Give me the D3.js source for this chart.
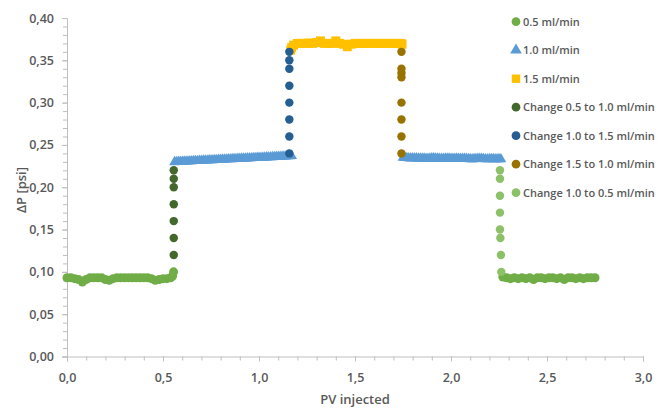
<!DOCTYPE html>
<html>
<head>
<meta charset="utf-8">
<script src="https://cdn.jsdelivr.net/npm/d3@7"></script>
<style>
  body { margin: 0; background: #fff; }
  text { font-family: "Open Sans", sans-serif; }
</style>
</head>
<body>
<div id="chart"></div>
<script>
// [PV injected, dP psi]
var flow05 = [
  [0.00,0.093],[0.02,0.093],[0.04,0.092],[0.06,0.091],[0.08,0.088],[0.10,0.091],[0.12,0.093],
  [0.14,0.093],[0.16,0.093],[0.18,0.093],[0.20,0.091],[0.22,0.090],[0.24,0.092],[0.26,0.093],
  [0.28,0.093],[0.30,0.093],[0.32,0.093],[0.34,0.093],[0.36,0.093],[0.38,0.093],[0.40,0.093],
  [0.42,0.093],[0.44,0.092],[0.46,0.090],[0.48,0.091],[0.50,0.092],[0.52,0.092],[0.54,0.093],
  [0.55,0.095],[0.555,0.100],
  [2.27,0.094],[2.29,0.093],[2.31,0.092],[2.33,0.093],[2.35,0.092],[2.37,0.093],[2.39,0.092],
  [2.41,0.093],[2.43,0.091],[2.45,0.093],[2.47,0.093],[2.49,0.092],[2.51,0.093],[2.53,0.093],
  [2.55,0.092],[2.57,0.093],[2.59,0.091],[2.61,0.093],[2.63,0.093],[2.65,0.092],[2.67,0.093],
  [2.69,0.092],[2.71,0.093],[2.73,0.093],[2.75,0.093]
];
var flow10 = [
  [0.56,0.2298],[0.57,0.2300],[0.58,0.2301],[0.59,0.2302],[0.60,0.2303],[0.61,0.2304],[0.62,0.2305],
  [0.63,0.2306],[0.64,0.2307],[0.65,0.2309],[0.66,0.2310],[0.67,0.2311],[0.68,0.2312],[0.69,0.2313],
  [0.70,0.2314],[0.71,0.2316],[0.72,0.2317],[0.73,0.2318],[0.74,0.2319],[0.75,0.2320],[0.76,0.2321],
  [0.77,0.2322],[0.78,0.2324],[0.79,0.2325],[0.80,0.2326],[0.81,0.2327],[0.82,0.2328],[0.83,0.2329],
  [0.84,0.2331],[0.85,0.2332],[0.86,0.2333],[0.87,0.2334],[0.88,0.2335],[0.89,0.2336],[0.90,0.2338],
  [0.91,0.2339],[0.92,0.2340],[0.93,0.2341],[0.94,0.2342],[0.95,0.2343],[0.96,0.2344],[0.97,0.2346],
  [0.98,0.2347],[0.99,0.2348],[1.00,0.2349],[1.01,0.2350],[1.02,0.2351],[1.03,0.2353],[1.04,0.2354],
  [1.05,0.2355],[1.06,0.2356],[1.07,0.2357],[1.08,0.2358],[1.09,0.2360],[1.10,0.2361],[1.11,0.2362],
  [1.12,0.2363],[1.13,0.2364],[1.14,0.2365],[1.15,0.2367],[1.16,0.2368],[1.17,0.2370],
  [1.75,0.2350],[1.76,0.2348],[1.77,0.2346],[1.78,0.2344],[1.79,0.2342],[1.80,0.2343],[1.81,0.2344],
  [1.82,0.2342],[1.83,0.2341],[1.84,0.2340],[1.85,0.2341],[1.86,0.2339],[1.87,0.2337],[1.88,0.2338],
  [1.89,0.2340],[1.90,0.2342],[1.91,0.2343],[1.92,0.2341],[1.93,0.2339],[1.94,0.2337],[1.95,0.2336],
  [1.96,0.2338],[1.97,0.2340],[1.98,0.2340],[1.99,0.2339],[2.00,0.2337],[2.01,0.2336],[2.02,0.2337],
  [2.03,0.2339],[2.04,0.2338],[2.05,0.2336],[2.06,0.2337],[2.07,0.2338],[2.08,0.2336],[2.09,0.2334],
  [2.10,0.2333],[2.11,0.2332],[2.12,0.2333],[2.13,0.2335],[2.14,0.2337],[2.15,0.2338],[2.16,0.2336],
  [2.17,0.2334],[2.18,0.2332],[2.19,0.2331],[2.20,0.2333],[2.21,0.2334],[2.22,0.2333],[2.23,0.2331],
  [2.24,0.2332],[2.25,0.2333],[2.26,0.2331]
];
var flow15 = [
  [1.165,0.362],[1.17,0.365],[1.18,0.368],[1.20,0.370],[1.22,0.370],[1.24,0.370],[1.26,0.3705],
  [1.28,0.370],[1.30,0.371],[1.32,0.373],[1.34,0.370],[1.36,0.370],[1.38,0.370],[1.40,0.373],
  [1.42,0.370],[1.44,0.369],[1.46,0.366],[1.48,0.369],[1.50,0.370],[1.52,0.370],[1.54,0.370],
  [1.56,0.370],[1.58,0.370],[1.60,0.370],[1.62,0.370],[1.64,0.370],[1.66,0.370],[1.68,0.370],
  [1.70,0.370],[1.72,0.370],[1.74,0.370],[1.745,0.369]
];
var change05to10 = [[0.556,0.12],[0.556,0.14],[0.556,0.16],[0.556,0.18],[0.556,0.20],[0.556,0.21],[0.556,0.22]];
var change10to15 = [[1.158,0.24],[1.158,0.26],[1.158,0.28],[1.158,0.30],[1.158,0.32],[1.158,0.34],[1.158,0.35],[1.158,0.36]];
var change15to10 = [[1.742,0.24],[1.742,0.26],[1.742,0.28],[1.742,0.30],[1.742,0.33],[1.742,0.335],[1.742,0.34],[1.742,0.36]];
var change10to05 = [[2.255,0.22],[2.255,0.21],[2.255,0.19],[2.255,0.17],[2.255,0.15],[2.257,0.14],[2.26,0.12],[2.262,0.10]];

var seriesNames = ["0.5 ml/min", "1.0 ml/min", "1.5 ml/min", "Change 0.5 to 1.0 ml/min",
  "Change 1.0 to 1.5 ml/min", "Change 1.5 to 1.0 ml/min", "Change 1.0 to 0.5 ml/min"];
var seriesData = [flow05, flow10, flow15, change05to10, change10to15, change15to10, change10to05];
var seriesColors = ["#70ad47", "#5b9bd5", "#ffc000", "#43682b", "#255e91", "#997300", "#8cc168"];
var seriesShapes = [d3.symbolCircle, d3.symbolTriangle, d3.symbolSquare, d3.symbolCircle,
  d3.symbolCircle, d3.symbolCircle, d3.symbolCircle];
var seriesSizes = [64, 50, 80, 56, 56, 56, 56];

var xTicks = [0, 0.5, 1, 1.5, 2, 2.5, 3];
var yTicks = [0, 0.05, 0.10, 0.15, 0.20, 0.25, 0.30, 0.35, 0.40];

var width = 659, height = 410,
    plotLeft = 67, plotRight = 643, plotTop = 18, plotBottom = 356.5,
    axisColor = "#bfbfbf", labelColor = "#595959";

var fmt = function (d, n) { return d.toFixed(n).replace(".", ","); };

var svg = d3.select("#chart").append("svg")
  .attr("width", width)
  .attr("height", height);

var x = d3.scaleLinear().domain([0, 3]).range([plotLeft, plotRight]);
var y = d3.scaleLinear().domain([0, 0.4]).range([plotBottom, plotTop]);

// minor ticks
svg.append("g")
  .attr("transform", "translate(0," + plotBottom + ")")
  .call(d3.axisBottom(x).tickValues(d3.range(0, 3.001, 0.1)).tickSize(4).tickFormat(""))
  .call(function (g) { g.select(".domain").remove(); })
  .selectAll("line").attr("stroke", axisColor);

svg.append("g")
  .attr("transform", "translate(" + plotLeft + ",0)")
  .call(d3.axisLeft(y).tickValues(d3.range(0, 0.4001, 0.01)).tickSize(4).tickFormat(""))
  .call(function (g) { g.select(".domain").remove(); })
  .selectAll("line").attr("stroke", axisColor);

var xAxis = svg.append("g")
  .attr("transform", "translate(0," + plotBottom + ")")
  .call(d3.axisBottom(x).tickValues(xTicks).tickSize(5).tickPadding(12)
    .tickFormat(function (d) { return fmt(d, 1); }));

var yAxis = svg.append("g")
  .attr("transform", "translate(" + plotLeft + ",0)")
  .call(d3.axisLeft(y).tickValues(yTicks).tickSize(5).tickPadding(8)
    .tickFormat(function (d) { return fmt(d, 2); }));

[xAxis, yAxis].forEach(function (g) {
  g.select(".domain").attr("stroke", axisColor).attr("stroke-width", 1);
  g.selectAll(".tick line").attr("stroke", axisColor);
  g.selectAll(".tick text")
    .attr("fill", labelColor)
    .style("font-size", "12.5px")
    .style("font-weight", "600")
    .style("font-family", "'Open Sans', sans-serif");
});

svg.append("text")
  .attr("x", x(1.5))
  .attr("y", 404)
  .attr("text-anchor", "middle")
  .attr("fill", labelColor)
  .style("font-size", "13px")
  .style("font-weight", "600")
  .text("PV injected");

svg.append("text")
  .attr("transform", "translate(26," + 190 + ") rotate(-90)")
  .attr("text-anchor", "middle")
  .attr("fill", labelColor)
  .style("font-size", "13px")
  .style("font-weight", "600")
  .text("ΔP [psi]");

// series markers
seriesData.forEach(function (data, i) {
  svg.append("g")
    .selectAll("path")
    .data(data)
    .enter()
      .append("path")
      .attr("d", d3.symbol().type(seriesShapes[i]).size(seriesSizes[i]))
      .attr("transform", function (d) { return "translate(" + x(d[0]) + "," + y(d[1]) + ")"; })
      .attr("fill", seriesColors[i]);
});

// legend
var legend = svg.append("g")
  .selectAll("g")
  .data(seriesNames)
  .enter()
    .append("g")
    .attr("transform", function (d, i) { return "translate(516," + (21.7 + i * 28.5) + ")"; });

legend.append("path")
  .attr("d", function (d, i) { return d3.symbol().type(seriesShapes[i]).size(i == 2 ? 70 : 60)(); })
  .attr("fill", function (d, i) { return seriesColors[i]; });

legend.append("text")
  .attr("x", 7)
  .attr("y", 4)
  .attr("fill", labelColor)
  .style("font-size", "11px")
  .style("font-weight", "600")
  .text(function (d) { return d; });
</script>
</body>
</html>
